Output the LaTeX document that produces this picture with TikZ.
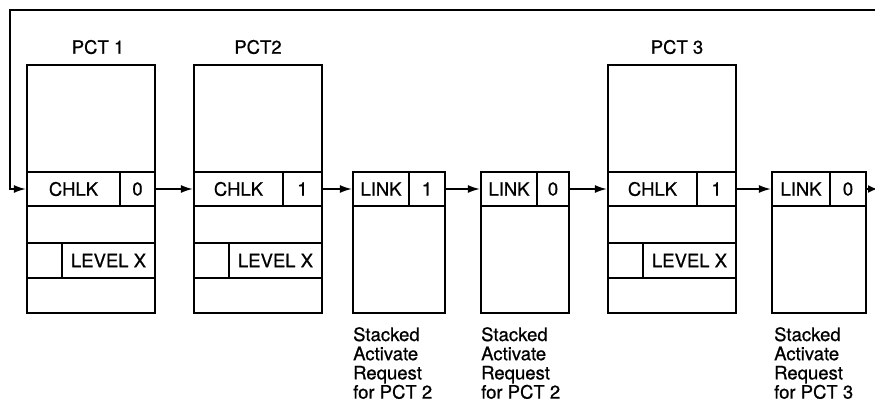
\documentclass[tikz,border=0pt]{standalone}
\usepackage{fontspec}
\setmainfont[FakeBold=0.7]{TeX Gyre Heros}
\usetikzlibrary{arrows.meta}
\tikzset{
  cell/.style={draw, line width=2.4pt, inner sep=0pt, outer sep=0pt, anchor=north west,
    font=\fontsize{18.5}{19.2}\selectfont},
  lbl/.style={inner sep=0pt, font=\fontsize{18.5}{19.2}\selectfont},
  captext/.style={inner sep=0pt, anchor=north west, align=left,
    font=\fontsize{18.5}{19.2}\selectfont},
  conn/.style={line width=1.4pt, shorten >=1.2pt, -{Latex[length=12pt,width=8pt]}}
}
\begin{document}
\begin{tikzpicture}[x=1pt,y=-1pt]
\useasboundingbox (0,0) rectangle (875,403);
% ---- PCT 1 ----
\node[lbl] (t1) at (98,47) {PCT 1};
\node[cell, minimum width=128, minimum height=107] (p1a) at (27,65) {};
\node[cell, minimum width=93, minimum height=34] (p1c) at (27,172) {CHLK};
\node[cell, minimum width=35, minimum height=34] (p1b) at (p1c.north east) {0};
\node[cell, minimum width=128, minimum height=37] (p1d) at (27,206) {};
\node[cell, minimum width=35, minimum height=35] (p1e) at (27,243) {};
\node[cell, minimum width=93, minimum height=35] (p1l) at (p1e.north east) {LEVEL X};
\node[cell, minimum width=128, minimum height=35] (p1f) at (27,278) {};
% ---- PCT 2 ----
\node[lbl] (t2) at (258,47) {PCT2};
\node[cell, minimum width=128, minimum height=107] (p2a) at (194,65) {};
\node[cell, minimum width=89, minimum height=34] (p2c) at (194,172) {CHLK};
\node[cell, minimum width=39, minimum height=34] (p2b) at (p2c.north east) {1};
\node[cell, minimum width=128, minimum height=37] (p2d) at (194,206) {};
\node[cell, minimum width=35, minimum height=35] (p2e) at (194,243) {};
\node[cell, minimum width=93, minimum height=35] (p2l) at (p2e.north east) {LEVEL X};
\node[cell, minimum width=128, minimum height=35] (p2f) at (194,278) {};
% ---- LINK 1 ----
\node[cell, minimum width=56, minimum height=34] (k1c) at (353,172) {LINK};
\node[cell, minimum width=36, minimum height=34] (k1b) at (k1c.north east) {1};
\node[cell, minimum width=92, minimum height=107] (k1d) at (353,206) {};
\node[captext] (s1) at (353,327) {Stacked\\Activate\\Request\\for PCT 2};
% ---- LINK 2 ----
\node[cell, minimum width=56, minimum height=34] (k2c) at (481,172) {LINK};
\node[cell, minimum width=32, minimum height=34] (k2b) at (k2c.north east) {0};
\node[cell, minimum width=88, minimum height=107] (k2d) at (481,206) {};
\node[captext] (s2) at (481,327) {Stacked\\Activate\\Request\\for PCT 2};
% ---- PCT 3 ----
\node[lbl] (t3) at (677,47) {PCT 3};
\node[cell, minimum width=128, minimum height=107] (p3a) at (608,65) {};
\node[cell, minimum width=89, minimum height=34] (p3c) at (608,172) {CHLK};
\node[cell, minimum width=39, minimum height=34] (p3b) at (p3c.north east) {1};
\node[cell, minimum width=128, minimum height=37] (p3d) at (608,206) {};
\node[cell, minimum width=35, minimum height=35] (p3e) at (608,243) {};
\node[cell, minimum width=93, minimum height=35] (p3l) at (p3e.north east) {LEVEL X};
\node[cell, minimum width=128, minimum height=35] (p3f) at (608,278) {};
% ---- LINK 3 ----
\node[cell, minimum width=58, minimum height=34] (k3c) at (772,172) {LINK};
\node[cell, minimum width=36, minimum height=34] (k3b) at (k3c.north east) {0};
\node[cell, minimum width=94, minimum height=107] (k3d) at (772,206) {};
\node[captext] (s3) at (774,327) {Stacked\\Activate\\Request\\for PCT 3};
% ---- connectors ----
\coordinate (tr) at (875,10);
\coordinate (tl) at (10,10);
\coordinate (bl) at (10,189);
\coordinate (out) at (877,189);
\draw[conn] (tr) -- (tl) -- (bl) -- (p1c.west);
\draw[conn] (p1b.east) -- (p2c.west);
\draw[conn] (p2b.east) -- (k1c.west);
\draw[conn] (k1b.east) -- (k2c.west);
\draw[conn] (k2b.east) -- (p3c.west);
\draw[conn] (p3b.east) -- (k3c.west);
\draw[line width=1.4pt, -{Latex[length=9pt,width=8pt]}] (k3b.east) -- (out);
\end{tikzpicture}
\end{document}
